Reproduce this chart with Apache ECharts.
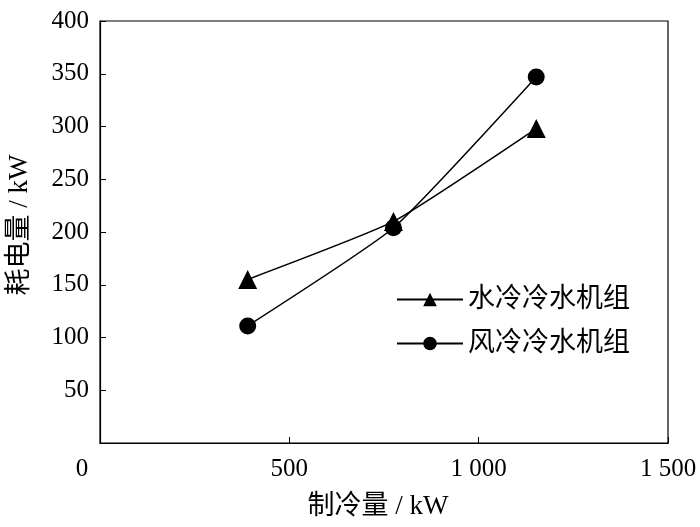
<!DOCTYPE html>
<html><head><meta charset="utf-8">
<script src="https://cdn.jsdelivr.net/npm/echarts@6/dist/echarts.min.js"></script>
<style>html,body{margin:0;padding:0;background:#fff}#c{width:700px;height:527px}</style>
</head><body><div id="c"></div>
<script>
const seriesNames = ['水冷冷水机组', '风冷冷水机组'];
const coolingCapacity = [390, 775, 1152];
const waterCooledPower = [155, 210, 298];
const airCooledPower = [111, 204, 347];
const xTicks = ['0', '500', '1 000', '1 500'];
const xAxisTitle = '制冷量 / kW';
const yAxisTitle = '耗电量 / kW';

const serif = '"Liberation Serif","DejaVu Serif",serif';
const cjk = '"Liberation Serif","Noto Sans CJK SC",serif';
const chart = echarts.init(document.getElementById('c'));
chart.setOption({
  animation: false,
  backgroundColor: '#fff',
  grid: { left: 100, right: 32, top: 21, bottom: 84, show: true, borderColor: '#000', borderWidth: 1.2, outerBoundsMode: 'none', containLabel: false },
  legend: {
    orient: 'vertical', left: 391, top: 281, itemWidth: 66, itemHeight: 17, itemGap: 17,
    textStyle: { fontFamily: cjk, fontSize: 27, color: '#000' },
    data: seriesNames
  },
  xAxis: {
    type: 'value', min: 0, max: 1500, interval: 500,
    name: xAxisTitle, nameLocation: 'middle', nameGap: 50,
    nameTextStyle: { fontFamily: cjk, fontSize: 27, color: '#000', padding: [0, 12, 0, 0] },
    axisLine: { lineStyle: { color: '#000', width: 1.2 } },
    axisTick: { inside: true, length: 6, lineStyle: { color: '#000' } },
    splitLine: { show: false },
    axisLabel: {
      margin: 14, fontFamily: serif, fontSize: 25, color: '#000',
      formatter: function (v) {
        const i = Math.round(v / 500);
        return i === 0 ? '{z|' + xTicks[0] + '}' : xTicks[i];
      },
      rich: { z: { fontFamily: serif, fontSize: 25, color: '#000', padding: [0, 36, 0, 0] } }
    }
  },
  yAxis: {
    type: 'value', min: 0, max: 400, interval: 50,
    name: yAxisTitle, nameLocation: 'middle', nameGap: 67,
    nameTextStyle: { fontFamily: cjk, fontSize: 27, color: '#000', padding: [0, 0, 0, 14] },
    axisLine: { lineStyle: { color: '#000', width: 1.2 } },
    axisTick: { inside: true, length: 6, lineStyle: { color: '#000' } },
    splitLine: { show: false },
    axisLabel: {
      margin: 11, fontFamily: serif, fontSize: 25, color: '#000',
      formatter: function (v) { return v === 0 ? '' : String(v); }
    }
  },
  series: [
    {
      name: seriesNames[0], type: 'line', smooth: 0.15,
      data: coolingCapacity.map((x, i) => [x, waterCooledPower[i]]),
      symbol: 'triangle', symbolSize: 19,
      lineStyle: { color: '#000', width: 1.5 }, itemStyle: { color: '#000' }
    },
    {
      name: seriesNames[1], type: 'line', smooth: 0.15,
      data: coolingCapacity.map((x, i) => [x, airCooledPower[i]]),
      symbol: 'circle', symbolSize: 17,
      lineStyle: { color: '#000', width: 1.5 }, itemStyle: { color: '#000' }
    }
  ]
});
</script></body></html>
